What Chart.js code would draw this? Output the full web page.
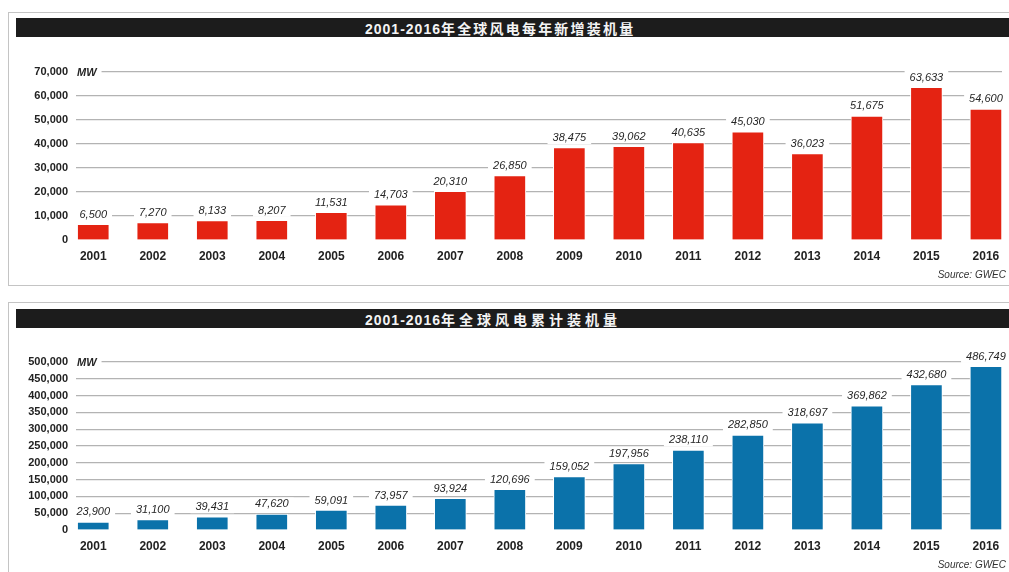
<!DOCTYPE html>
<html>
<head>
<meta charset="utf-8">
<script src="https://cdn.jsdelivr.net/npm/chart.js@4.4.1/dist/chart.umd.min.js"></script>
<style>
body { margin: 0; width: 1009px; height: 572px; overflow: hidden; background: #fff; position: relative; }
.panel { position: absolute; left: 8px; width: 1010px; border: 1.5px solid #c4c4c4; border-right: none; }
#p1 { top: 12px; height: 272px; }
#p2 { top: 302px; height: 300px; }
.titlebar { position: absolute; left: 16px; right: 0; height: 19px; background: #1c1c1c; color: #f4f4f4; }
.titlebar .txt { position: absolute; left: 349px; top: 0; line-height: 19px; white-space: nowrap; }
.titlebar .lat { font: bold 14px "Liberation Sans", sans-serif; letter-spacing: 1px; }
.titlebar .cjk { font: bold 14px "Noto Sans CJK SC", sans-serif; }
#t1 .cjk { letter-spacing: 2.2px; }
#t2 .cjk { letter-spacing: 4px; }
#t1 { top: 18px; }
#t2 { top: 309px; }
canvas { position: absolute; left: 0; }
#c1 { top: 40px; }
#c2 { top: 330px; }
</style>
</head>
<body>
<div class="panel" id="p1"></div>
<div class="panel" id="p2"></div>
<div class="titlebar" id="t1"><span class="txt"><span class="lat">2001-2016</span><span class="cjk">年全球风电每年新增装机量</span></span></div>
<div class="titlebar" id="t2"><span class="txt"><span class="lat">2001-2016</span><span class="cjk">年全球风电累计装机量</span></span></div>
<canvas id="c1" width="1009" height="245"></canvas>
<canvas id="c2" width="1009" height="245"></canvas>
<script>
const years = [2001, 2002, 2003, 2004, 2005, 2006, 2007, 2008, 2009, 2010, 2011, 2012, 2013, 2014, 2015, 2016];
const newInstalled = [6500, 7270, 8133, 8207, 11531, 14703, 20310, 26850, 38475, 39062, 40635, 45030, 36023, 51675, 63633, 54600];
const cumulative = [23900, 31100, 39431, 47620, 59091, 73957, 93924, 120696, 159052, 197956, 238110, 282850, 318697, 369862, 432680, 486749];
const newAxisMax = 70000, newAxisStep = 10000;
const cumAxisMax = 500000, cumAxisStep = 50000;
const unitLabel = 'MW';
const sourceLabel = 'Source: GWEC';

// value labels with white box, the MW unit and the source line
const barLabels = {
    id: 'barLabels',
    afterDatasetsDraw(chart) {
        const ctx = chart.ctx;
        const meta = chart.getDatasetMeta(0);
        ctx.save();
        ctx.font = 'italic 11px "Liberation Sans"';
        ctx.textAlign = 'center';
        ctx.textBaseline = 'alphabetic';
        meta.data.forEach((bar, i) => {
            const txt = chart.data.datasets[0].data[i].y.toLocaleString('en-US');
            const w = ctx.measureText(txt).width;
            const yb = bar.y - 6.5;
            ctx.fillStyle = '#fff';
            ctx.fillRect(bar.x - w / 2 - 5, yb - 10, w + 10, 13);
            ctx.fillStyle = '#262626';
            ctx.fillText(txt, bar.x, yb);
        });

        const ys = chart.scales.y;
        const top = ys.getPixelForValue(ys.max);
        const left = chart.chartArea.left;
        ctx.font = 'bold italic 11px "Liberation Sans"';
        ctx.textAlign = 'left';
        ctx.textBaseline = 'middle';
        const mw = ctx.measureText(unitLabel).width;
        ctx.fillStyle = '#fff';
        ctx.fillRect(left - 1, top - 3, mw + 7, 6);
        ctx.fillStyle = '#262626';
        ctx.fillText(unitLabel, left + 1, top + 0.5);

        ctx.font = 'italic 10px "Liberation Sans"';
        ctx.textAlign = 'right';
        ctx.fillStyle = '#333';
        ctx.fillText(sourceLabel, chart.width - 3, 235);
        ctx.restore();
    }
};

function makeChart(id, values, color, yMax, yStep) {
    const ctx = document.getElementById(id).getContext('2d');
    return new Chart(ctx, {
        type: 'bar',
        data: {
            datasets: [{
                data: years.map((yr, i) => ({ x: yr, y: values[i] })),
                backgroundColor: color,
                borderColor: '#fff',
                borderWidth: { left: 1, right: 1, top: 1, bottom: 0 },
                borderSkipped: false,
                barThickness: 32
            }]
        },
        options: {
            responsive: false,
            animation: false,
            layout: { padding: { top: 32, right: 7, bottom: 20, left: 0 } },
            scales: {
                x: {
                    type: 'linear',
                    offset: false,
                    min: 2000.71,
                    max: 2016.27,
                    afterBuildTicks: s => { s.ticks = years.map(v => ({ value: v })); },
                    afterFit: s => { s.height = 25; },
                    grid: { display: false, drawTicks: false, offset: false },
                    border: { display: false },
                    ticks: {
                        autoSkip: false,
                        maxRotation: 0,
                        padding: 9,
                        color: '#222',
                        font: { family: 'Liberation Sans', size: 12, weight: 'bold' },
                        callback: v => String(v)
                    }
                },
                y: {
                    min: 0,
                    max: yMax,
                    afterFit: s => { s.width = 76; },
                    grid: {
                        drawTicks: false,
                        lineWidth: 1.2,
                        color: c => c.tick.value === 0 ? 'rgba(0,0,0,0)' : '#b3b3b3'
                    },
                    border: { display: false },
                    ticks: {
                        stepSize: yStep,
                        padding: 8,
                        color: '#222',
                        font: { family: 'Liberation Sans', size: 11, weight: 'bold' }
                    }
                }
            },
            plugins: {
                legend: { display: false },
                tooltip: { enabled: false }
            }
        },
        plugins: [barLabels]
    });
}

makeChart('c1', newInstalled, '#e42312', newAxisMax, newAxisStep);
makeChart('c2', cumulative, '#0b72aa', cumAxisMax, cumAxisStep);
</script>
</body>
</html>
